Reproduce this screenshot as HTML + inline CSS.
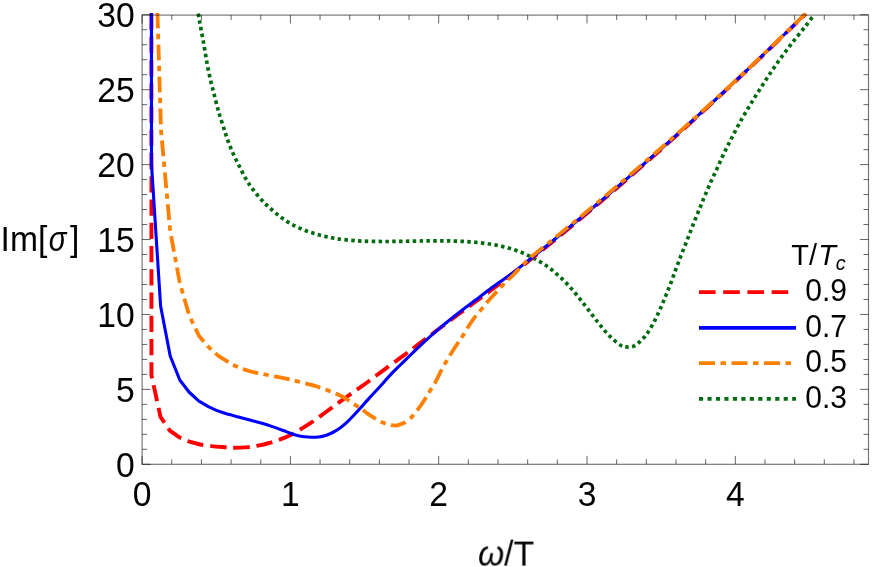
<!DOCTYPE html>
<html><head><meta charset="utf-8"><title>Im[σ] vs ω/T</title>
<style>html,body{margin:0;padding:0;background:#fff;}body{width:872px;height:567px;overflow:hidden;font-family:"Liberation Sans",sans-serif;}svg{display:block;}</style></head>
<body>
<svg width="872" height="567" viewBox="0 0 872 567" style="will-change:transform">
<rect width="872" height="567" fill="#fff"/>
<defs><clipPath id="c"><rect x="142.1" y="12.9" width="726.4" height="451.4"/></clipPath></defs>
<g clip-path="url(#c)" fill="none" stroke-linejoin="round">
<path d="M195.20 -5.00 C195.75 -1.67 197.55 9.38 198.50 15.00 C199.45 20.62 200.08 24.20 200.90 28.70 C201.72 33.20 202.60 37.53 203.40 42.00 C204.20 46.47 204.92 51.03 205.70 55.50 C206.48 59.97 207.22 64.37 208.10 68.80 C208.98 73.23 209.95 77.67 211.00 82.10 C212.05 86.53 213.27 90.95 214.40 95.40 C215.53 99.85 216.93 105.53 217.80 108.80 C218.67 112.07 218.60 111.77 219.60 115.00 C220.60 118.23 222.38 123.83 223.80 128.20 C225.22 132.57 226.50 136.87 228.10 141.20 C229.70 145.53 231.55 150.07 233.40 154.20 C235.25 158.33 237.15 161.95 239.20 166.00 C241.25 170.05 243.38 174.57 245.70 178.50 C248.02 182.43 250.40 185.97 253.10 189.60 C255.80 193.23 258.82 196.98 261.90 200.30 C264.98 203.62 268.20 206.50 271.60 209.50 C275.00 212.50 278.60 215.65 282.30 218.30 C286.00 220.95 289.78 223.30 293.80 225.40 C297.82 227.50 302.15 229.30 306.40 230.90 C310.65 232.50 314.90 233.82 319.30 235.00 C323.70 236.18 328.30 237.18 332.80 238.00 C337.30 238.82 341.33 239.38 346.30 239.90 C351.27 240.42 356.45 240.83 362.60 241.10 C368.75 241.37 376.32 241.47 383.20 241.50 C390.08 241.53 397.02 241.40 403.90 241.30 C410.78 241.20 418.15 240.98 424.50 240.90 C430.85 240.82 436.85 240.77 442.00 240.80 C447.15 240.83 450.88 240.93 455.40 241.10 C459.92 241.27 464.55 241.47 469.10 241.80 C473.65 242.13 478.20 242.55 482.70 243.10 C487.20 243.65 491.67 244.23 496.10 245.10 C500.53 245.97 504.95 247.03 509.30 248.30 C513.65 249.57 517.95 250.95 522.20 252.70 C526.45 254.45 530.75 256.62 534.80 258.80 C538.85 260.98 542.78 263.20 546.50 265.80 C550.22 268.40 553.72 271.43 557.10 274.40 C560.48 277.37 563.68 280.37 566.80 283.60 C569.92 286.83 572.87 290.28 575.80 293.80 C578.73 297.32 581.55 301.03 584.40 304.70 C587.25 308.37 590.10 312.18 592.90 315.80 C595.70 319.42 598.32 322.93 601.20 326.40 C604.08 329.87 606.97 333.45 610.20 336.60 C613.43 339.75 617.83 343.57 620.60 345.30 C623.37 347.03 624.65 346.83 626.80 347.00 C628.95 347.17 631.45 347.08 633.50 346.30 C635.55 345.52 637.35 343.77 639.10 342.30 C640.85 340.83 642.50 339.18 644.00 337.50 C645.50 335.82 646.33 334.98 648.10 332.20 C649.87 329.42 652.55 324.77 654.60 320.80 C656.65 316.83 658.55 312.55 660.40 308.40 C662.25 304.25 663.97 300.10 665.70 295.90 C667.43 291.70 669.18 287.43 670.80 283.20 C672.42 278.97 673.83 274.77 675.40 270.50 C676.97 266.23 678.53 261.93 680.20 257.60 C681.87 253.27 683.72 248.80 685.40 244.50 C687.08 240.20 688.65 236.03 690.30 231.80 C691.95 227.57 693.60 223.33 695.30 219.10 C697.00 214.87 698.78 210.58 700.50 206.40 C702.22 202.22 703.83 198.18 705.60 194.00 C707.37 189.82 709.23 185.45 711.10 181.30 C712.97 177.15 714.90 173.25 716.80 169.10 C718.70 164.95 720.55 160.55 722.50 156.40 C724.45 152.25 726.47 148.23 728.50 144.20 C730.53 140.17 732.58 136.23 734.70 132.20 C736.82 128.17 738.93 124.03 741.20 120.00 C743.47 115.97 745.97 111.90 748.30 108.00 C750.63 104.10 752.82 100.43 755.20 96.60 C757.58 92.77 760.12 88.85 762.60 85.00 C765.08 81.15 767.57 77.30 770.10 73.50 C772.63 69.70 775.17 65.92 777.80 62.20 C780.43 58.48 783.15 54.87 785.90 51.20 C788.65 47.53 791.50 43.78 794.30 40.20 C797.10 36.62 800.55 32.40 802.70 29.70 C804.85 27.00 805.75 25.88 807.20 24.00 C808.65 22.12 810.47 19.60 811.40 18.40 C812.33 17.20 812.57 17.07 812.80 16.80" stroke="#006b0e" stroke-width="3.7" stroke-dasharray="3.45 3.376" stroke-dashoffset="1.75"/>
<path d="M151.40 -40.00 L151.45 375.20 L160.50 416.90 L169.80 430.60 L179.10 437.20 L188.50 441.30 L200.20 444.50 C202.12 444.77 207.47 445.65 211.70 446.10 C215.93 446.55 221.85 446.92 225.60 447.20 C229.35 447.48 230.42 447.82 234.20 447.80 C237.98 447.78 244.30 447.47 248.30 447.10 C252.30 446.73 254.73 446.28 258.20 445.60 C261.67 444.92 265.40 444.05 269.10 443.00 C272.80 441.95 276.63 440.73 280.40 439.30 C284.17 437.87 288.17 436.17 291.70 434.40 C295.23 432.63 298.30 430.70 301.60 428.70 C304.90 426.70 308.20 424.63 311.50 422.40 C314.80 420.17 318.12 417.67 321.40 415.30 C324.68 412.93 328.15 410.43 331.20 408.20 C334.25 405.97 336.63 404.13 339.70 401.90 C342.77 399.67 346.30 397.15 349.60 394.80 C352.90 392.45 356.20 390.15 359.50 387.80 C362.80 385.45 364.72 384.15 369.40 380.70 C374.08 377.25 381.63 371.48 387.60 367.10 C393.57 362.72 399.97 358.27 405.20 354.40 C410.43 350.53 413.63 347.97 419.00 343.90 C424.37 339.83 430.82 334.93 437.40 330.00 C443.98 325.07 451.92 319.20 458.50 314.30 C465.08 309.40 471.02 304.97 476.90 300.60 C482.78 296.23 487.45 292.90 493.80 288.10 C500.15 283.30 507.47 277.70 515.00 271.80 C522.53 265.90 531.00 259.13 539.00 252.70 C547.00 246.27 555.00 239.77 563.00 233.21 C571.00 226.65 579.00 220.03 587.00 213.34 C595.00 206.65 603.00 199.90 611.00 193.07 C619.00 186.24 627.00 179.33 635.00 172.35 C643.00 165.36 651.00 158.30 659.00 151.19 C667.00 144.07 675.00 136.89 683.00 129.64 C691.00 122.39 699.00 115.08 707.00 107.71 C715.00 100.34 723.00 92.90 731.00 85.42 C739.00 77.94 747.00 70.42 755.00 62.83 C763.00 55.23 770.55 48.02 779.00 39.85 C787.45 31.68 801.25 18.17 805.70 13.83" stroke="#ff0000" stroke-width="3.9" stroke-dasharray="16.3 6.94" stroke-dashoffset="16.19"/>
<path d="M151.40 -40.00 L151.50 164.40 L160.60 306.00 L170.20 356.00 L179.80 380.00 L189.00 392.00 L198.90 401.20 L208.80 406.80 C210.43 407.52 215.32 409.85 218.60 411.10 C221.88 412.35 225.20 413.32 228.50 414.30 C231.80 415.28 234.87 416.05 238.40 417.00 C241.93 417.95 245.93 418.98 249.70 420.00 C253.47 421.02 257.23 422.00 261.00 423.10 C264.77 424.20 268.60 425.37 272.30 426.60 C276.00 427.83 280.20 429.40 283.20 430.50 C286.20 431.60 287.93 432.37 290.30 433.20 C292.67 434.03 295.05 434.90 297.40 435.50 C299.75 436.10 302.05 436.50 304.40 436.80 C306.75 437.10 309.15 437.27 311.50 437.30 C313.85 437.33 316.15 437.30 318.50 437.00 C320.85 436.70 323.23 436.25 325.60 435.50 C327.97 434.75 330.35 433.70 332.70 432.50 C335.05 431.30 337.35 429.98 339.70 428.30 C342.05 426.62 344.45 424.57 346.80 422.40 C349.15 420.23 351.45 417.78 353.80 415.30 C356.15 412.82 358.55 410.12 360.90 407.50 C363.25 404.88 364.87 402.93 367.90 399.60 C370.93 396.27 374.88 392.12 379.10 387.50 C383.32 382.88 387.97 377.32 393.20 371.90 C398.43 366.48 405.50 359.85 410.50 355.00 C415.50 350.15 418.72 346.95 423.20 342.80 C427.68 338.65 432.68 334.15 437.40 330.10 C442.12 326.05 446.80 322.27 451.50 318.50 C456.20 314.73 460.90 311.10 465.60 307.50 C470.30 303.90 475.00 300.43 479.70 296.90 C484.40 293.37 488.85 289.90 493.80 286.30 C498.75 282.70 504.20 279.15 509.40 275.30 C514.60 271.45 518.40 268.42 525.00 263.19 C531.60 257.96 541.00 250.41 549.00 243.93 C557.00 237.44 565.00 230.89 573.00 224.28 C581.00 217.66 589.00 210.98 597.00 204.24 C605.00 197.50 613.00 190.69 621.00 183.81 C629.00 176.94 637.00 170.00 645.00 163.00 C653.00 156.00 661.00 148.93 669.00 141.80 C677.00 134.67 685.00 127.47 693.00 120.21 C701.00 112.95 709.00 105.63 717.00 98.24 C725.00 90.85 733.00 83.39 741.00 75.88 C749.00 68.36 757.00 60.77 765.00 53.13 C773.00 45.48 782.22 36.57 789.00 29.99 C795.78 23.41 802.92 16.38 805.70 13.66" stroke="#0000ff" stroke-width="3.1"/>
<path d="M151.30 -190.00 L161.00 130.00 L170.20 231.00 L179.80 283.00 L189.40 316.00 L199.10 336.00 L208.80 347.30 L218.40 355.80 C220.98 357.37 228.63 362.63 233.90 365.20 C239.17 367.77 244.40 369.57 250.00 371.20 C255.60 372.83 261.68 373.82 267.50 375.00 C273.32 376.18 279.92 377.23 284.90 378.30 C289.88 379.37 292.97 380.30 297.40 381.40 C301.83 382.50 307.98 383.95 311.50 384.90 C315.02 385.85 315.68 386.15 318.50 387.10 C321.32 388.05 325.33 389.43 328.40 390.60 C331.47 391.77 334.07 392.80 336.90 394.10 C339.73 395.40 342.58 396.75 345.40 398.40 C348.22 400.05 350.98 402.13 353.80 404.00 C356.62 405.87 359.95 407.95 362.30 409.60 C364.65 411.25 365.92 412.53 367.90 413.90 C369.88 415.27 371.75 416.37 374.20 417.80 C376.65 419.23 379.78 421.27 382.60 422.50 C385.42 423.73 389.68 424.75 391.10 425.20 L396.80 425.60 L404.50 422.80 C405.68 421.85 409.37 419.33 411.60 417.10 C413.83 414.87 415.78 412.22 417.90 409.40 C420.02 406.58 422.30 403.27 424.30 400.20 C426.30 397.13 428.02 394.07 429.90 391.00 C431.78 387.93 433.83 384.98 435.60 381.80 C437.37 378.62 438.85 375.07 440.50 371.90 C442.15 368.73 443.90 365.62 445.50 362.80 C447.10 359.98 448.17 358.10 450.10 355.00 C452.03 351.90 454.98 347.42 457.10 344.20 C459.22 340.98 460.92 338.65 462.80 335.70 C464.68 332.75 466.52 329.43 468.40 326.50 C470.28 323.57 471.98 320.92 474.10 318.10 C476.22 315.28 478.75 312.43 481.10 309.60 C483.45 306.77 485.85 303.80 488.20 301.10 C490.55 298.40 492.85 295.98 495.20 293.40 C497.55 290.82 499.47 288.50 502.30 285.60 C505.13 282.70 507.58 280.60 512.20 276.00 C516.82 271.40 523.03 264.23 530.00 258.01 C536.97 251.79 546.00 245.18 554.00 238.67 C562.00 232.15 570.00 225.58 578.00 218.94 C586.00 212.29 594.00 205.58 602.00 198.82 C610.00 192.05 618.00 185.22 626.00 178.36 C634.00 171.50 642.00 164.63 650.00 157.67 C658.00 150.71 666.00 143.69 674.00 136.60 C682.00 129.51 690.00 122.35 698.00 115.14 C706.00 107.92 714.00 100.66 722.00 93.29 C730.00 85.91 738.00 78.41 746.00 70.87 C754.00 63.33 762.00 55.71 770.00 48.04 C778.00 40.36 788.05 30.60 794.00 24.82 C799.95 19.04 803.75 15.27 805.70 13.36" stroke="#ff8000" stroke-width="3.8" stroke-dasharray="15.8 5.4 5.4 5.4" stroke-dashoffset="21.3"/>
</g>
<rect x="142.1" y="15.1" width="726.4" height="449.2" fill="none" stroke="#000" stroke-opacity="0.55" stroke-width="1.15"/>
<path d="M142.10 464.3v-8.4M142.10 15.1v8.4M171.76 464.3v-5.0M171.76 15.1v5.0M201.42 464.3v-5.0M201.42 15.1v5.0M231.08 464.3v-5.0M231.08 15.1v5.0M260.74 464.3v-5.0M260.74 15.1v5.0M290.40 464.3v-8.4M290.40 15.1v8.4M320.06 464.3v-5.0M320.06 15.1v5.0M349.72 464.3v-5.0M349.72 15.1v5.0M379.38 464.3v-5.0M379.38 15.1v5.0M409.04 464.3v-5.0M409.04 15.1v5.0M438.70 464.3v-8.4M438.70 15.1v8.4M468.36 464.3v-5.0M468.36 15.1v5.0M498.02 464.3v-5.0M498.02 15.1v5.0M527.68 464.3v-5.0M527.68 15.1v5.0M557.34 464.3v-5.0M557.34 15.1v5.0M587.00 464.3v-8.4M587.00 15.1v8.4M616.66 464.3v-5.0M616.66 15.1v5.0M646.32 464.3v-5.0M646.32 15.1v5.0M675.98 464.3v-5.0M675.98 15.1v5.0M705.64 464.3v-5.0M705.64 15.1v5.0M735.30 464.3v-8.4M735.30 15.1v8.4M764.96 464.3v-5.0M764.96 15.1v5.0M794.62 464.3v-5.0M794.62 15.1v5.0M824.28 464.3v-5.0M824.28 15.1v5.0M853.94 464.3v-5.0M853.94 15.1v5.0M142.1 464.30h8.4M868.5 464.30h-8.4M142.1 449.31h5.0M868.5 449.31h-5.0M142.1 434.33h5.0M868.5 434.33h-5.0M142.1 419.35h5.0M868.5 419.35h-5.0M142.1 404.36h5.0M868.5 404.36h-5.0M142.1 389.38h8.4M868.5 389.38h-8.4M142.1 374.39h5.0M868.5 374.39h-5.0M142.1 359.41h5.0M868.5 359.41h-5.0M142.1 344.42h5.0M868.5 344.42h-5.0M142.1 329.44h5.0M868.5 329.44h-5.0M142.1 314.45h8.4M868.5 314.45h-8.4M142.1 299.47h5.0M868.5 299.47h-5.0M142.1 284.48h5.0M868.5 284.48h-5.0M142.1 269.50h5.0M868.5 269.50h-5.0M142.1 254.51h5.0M868.5 254.51h-5.0M142.1 239.53h8.4M868.5 239.53h-8.4M142.1 224.54h5.0M868.5 224.54h-5.0M142.1 209.56h5.0M868.5 209.56h-5.0M142.1 194.57h5.0M868.5 194.57h-5.0M142.1 179.59h5.0M868.5 179.59h-5.0M142.1 164.60h8.4M868.5 164.60h-8.4M142.1 149.62h5.0M868.5 149.62h-5.0M142.1 134.63h5.0M868.5 134.63h-5.0M142.1 119.65h5.0M868.5 119.65h-5.0M142.1 104.66h5.0M868.5 104.66h-5.0M142.1 89.68h8.4M868.5 89.68h-8.4M142.1 74.69h5.0M868.5 74.69h-5.0M142.1 59.71h5.0M868.5 59.71h-5.0M142.1 44.72h5.0M868.5 44.72h-5.0M142.1 29.74h5.0M868.5 29.74h-5.0M142.1 14.75h8.4M868.5 14.75h-8.4" stroke="#000" stroke-opacity="0.72" stroke-width="0.85" fill="none"/>
<g font-family="'Liberation Sans', sans-serif" font-size="34.5" fill="#000" opacity="0.99">
<text transform="translate(134.60 476.60) scale(0.976 1)" text-anchor="end">0</text>
<text transform="translate(134.60 401.68) scale(0.976 1)" text-anchor="end">5</text>
<text transform="translate(134.60 326.75) scale(0.976 1)" text-anchor="end">10</text>
<text transform="translate(134.60 251.83) scale(0.976 1)" text-anchor="end">15</text>
<text transform="translate(134.60 176.90) scale(0.976 1)" text-anchor="end">20</text>
<text transform="translate(134.60 101.98) scale(0.976 1)" text-anchor="end">25</text>
<text transform="translate(134.60 27.05) scale(0.976 1)" text-anchor="end">30</text>
<text transform="translate(142.10 506.00) scale(0.976 1)" text-anchor="middle">0</text>
<text transform="translate(290.40 506.00) scale(0.976 1)" text-anchor="middle">1</text>
<text transform="translate(438.70 506.00) scale(0.976 1)" text-anchor="middle">2</text>
<text transform="translate(587.00 506.00) scale(0.976 1)" text-anchor="middle">3</text>
<text transform="translate(735.30 506.00) scale(0.976 1)" text-anchor="middle">4</text>
<text transform="translate(0.60 250.80) scale(0.976 1)" text-anchor="start">Im[</text>
<text transform="translate(48.70 250.80) scale(0.850 1)" text-anchor="start"><tspan font-style="italic">σ</tspan></text>
<text transform="translate(69.90 250.80) scale(0.976 1)" text-anchor="start">]</text>
<text transform="translate(478.00 565.60) scale(0.976 1)" text-anchor="start"><tspan font-style="italic">ω</tspan>/T</text>
</g>
<g font-family="'Liberation Sans', sans-serif" font-size="30.5" fill="#000" opacity="0.99">
<text transform="translate(791.2 265) scale(0.965 1)" font-size="30">T/<tspan font-style="italic" dx="1.4">T</tspan><tspan font-style="italic" font-size="20.5" dy="4.6" dx="-0.2">c</tspan></text>
<path d="M699 292.2H795.5" stroke="#ff0000" stroke-width="3.8" fill="none" stroke-dasharray="16.6 7.6"/>
<text transform="translate(805.20 301.40) scale(0.985 1)" text-anchor="start">0.9</text>
<path d="M699 327.8H796.0" stroke="#0000ff" stroke-width="3.8" fill="none"/>
<text transform="translate(805.20 337.00) scale(0.985 1)" text-anchor="start">0.7</text>
<path d="M699 363.2H796.0" stroke="#ff8000" stroke-width="3.8" fill="none" stroke-dasharray="16 5.5 5.5 5.5"/>
<text transform="translate(805.20 372.40) scale(0.985 1)" text-anchor="start">0.5</text>
<path d="M699 398.9H796.0" stroke="#006b0e" stroke-width="3.8" fill="none" stroke-dasharray="4.1 4.37"/>
<text transform="translate(805.20 408.10) scale(0.985 1)" text-anchor="start">0.3</text>
</g>
</svg>
</body></html>
